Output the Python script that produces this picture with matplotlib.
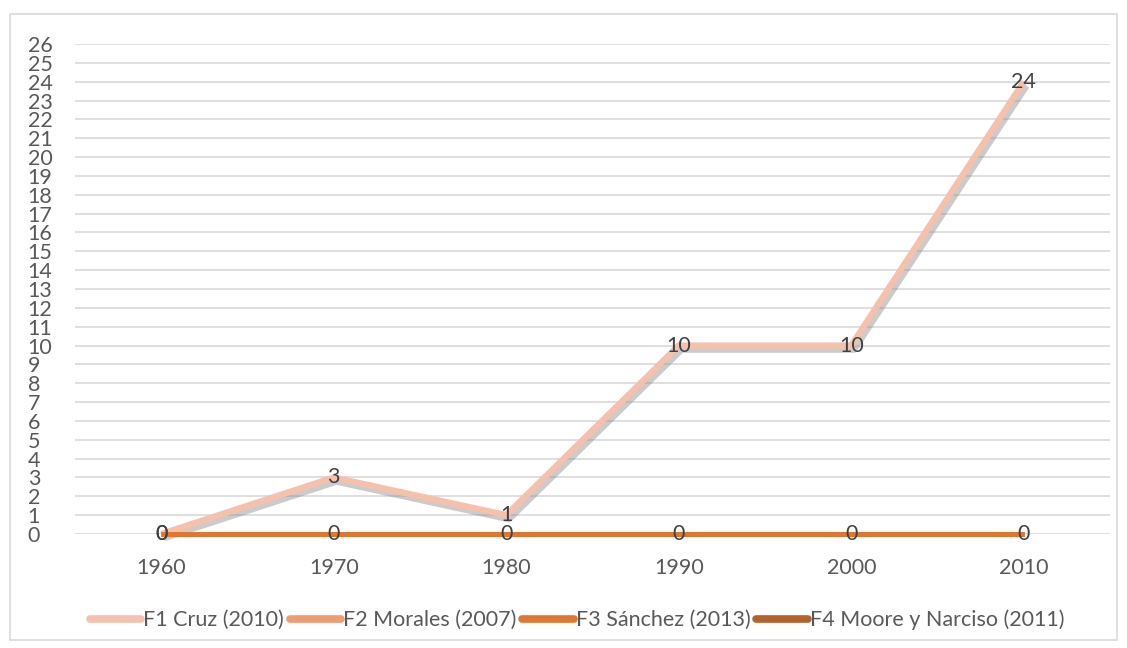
import matplotlib
matplotlib.use("Agg")
import matplotlib.pyplot as plt
import matplotlib.patheffects as pe
from matplotlib.patches import Rectangle

# data
years = ["1960", "1970", "1980", "1990", "2000", "2010"]
f1_cruz = [0, 3, 1, 10, 10, 24]
f2_morales = [0, 0, 0, 0, 0, 0]
f3_sanchez = [0, 0, 0, 0, 0, 0]
f4_moore = [0, 0, 0, 0, 0, 0]

series_names = ["F1 Cruz (2010)", "F2 Morales (2007)", "F3 Sánchez (2013)",
                "F4 Moore y Narciso (2011)"]
colors = ["#F5C1AC", "#F09C70", "#E07630", "#B5622A"]

plt.rcParams['font.family'] = ['Lato', 'DejaVu Sans']

fig = plt.figure(figsize=(11.27, 6.48), dpi=100)

# light frame around the chart
fig.patches.append(Rectangle((10 / 1127, 1 - 640 / 648), 1107 / 1127, 626 / 648,
                             transform=fig.transFigure, fill=False,
                             edgecolor="#D9D9D9", linewidth=1.2))

ax = fig.add_axes([75 / 1127, 1 - 534 / 648, 1035 / 1127, 490 / 648])
x = list(range(len(years)))

shadow = [pe.SimpleLineShadow(offset=(2, -3), shadow_color="#8C8C8C", alpha=0.45),
          pe.Normal()]

all_series = [f1_cruz, f2_morales, f4_moore, f3_sanchez]
order = [0, 1, 3, 2]
handles = {}
for s, i in zip(all_series, order):
    lw = 4.5 if i == 0 else 3.6
    ln, = ax.plot(x, s, color=colors[i], linewidth=lw, solid_capstyle="butt",
                  path_effects=shadow if i == 0 else None, zorder=3 + (i == 2),
                  label=series_names[i], clip_on=False)
    handles[i] = ln

# data labels
for xi, v in zip(x, f1_cruz):
    ax.text(xi, v, str(v), ha="center", va="center", fontsize=15.5,
            color="#404040", zorder=6)
for xi, v in zip(x, f3_sanchez):
    ax.text(xi, v, str(v), ha="center", va="center", fontsize=15.5,
            color="#404040", zorder=6)

ax.set_xlim(-0.5, 5.5)
ax.set_ylim(0, 26)
ax.set_yticks(range(0, 27))
ax.set_xticks(x)
ax.set_xticklabels(years)
ax.grid(axis="y", color="#D9D9D9", linewidth=1.2)
ax.set_axisbelow(True)
for sp in ax.spines.values():
    sp.set_visible(False)
ax.tick_params(axis="both", length=0, labelsize=15.5, labelcolor="#595959")
ax.tick_params(axis="y", pad=34)
ax.tick_params(axis="x", pad=17)
for lab in ax.get_yticklabels():
    lab.set_horizontalalignment("left")

leg = fig.legend([handles[i] for i in range(4)], series_names,
                 loc="center", bbox_to_anchor=(577 / 1127, 1 - 620 / 648),
                 ncol=4, frameon=False, fontsize=15.5, handlelength=2.4,
                 handletextpad=0.1, columnspacing=0.25)
for t in leg.get_texts():
    t.set_color("#595959")
for h in leg.get_lines():
    h.set_linewidth(5.5)
    h.set_solid_capstyle("round")
    h.set_path_effects([])

fig.savefig("out.png", dpi=100)
